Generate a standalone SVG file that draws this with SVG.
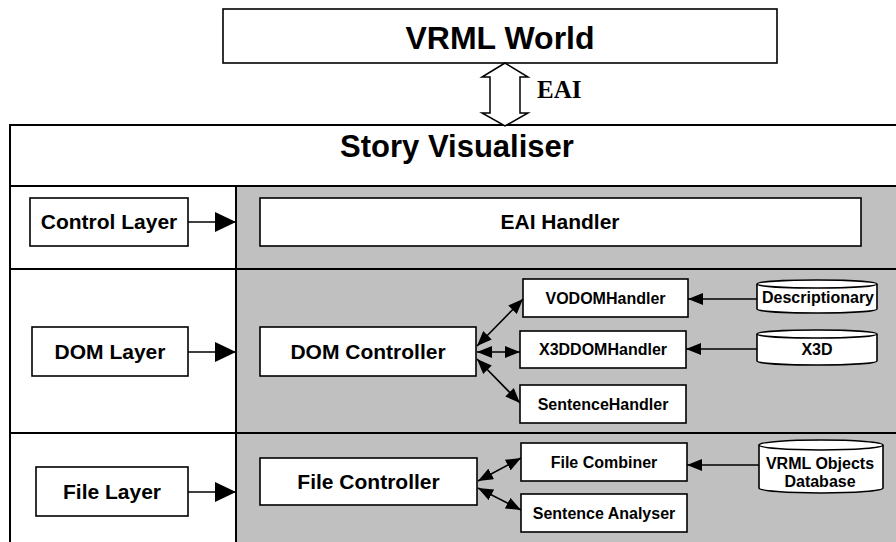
<svg xmlns="http://www.w3.org/2000/svg" width="896" height="542" viewBox="0 0 896 542">
<defs>
<style>
.box{fill:#fff;stroke:#000;stroke-width:1.6}
.ln{fill:none;stroke:#000;stroke-width:2}
.t{font-family:"Liberation Sans",Arial,sans-serif;font-weight:bold;fill:#000;text-anchor:middle}
.t21{font-size:21px}
.t16{font-size:16px}
.c{stroke:#000;stroke-width:1.6;fill:none}
.big{marker-end:url(#big)}
.sm{marker-end:url(#sm)}
.both{marker-start:url(#sm);marker-end:url(#sm)}
</style>
<marker id="big" markerUnits="userSpaceOnUse" markerWidth="21" markerHeight="20" refX="21" refY="10" orient="auto" viewBox="0 0 21 20">
<path d="M0,0 L21,10 L0,20 z" fill="#000"/>
</marker>
<marker id="sm" markerUnits="userSpaceOnUse" markerWidth="15" markerHeight="12" refX="15" refY="6" orient="auto-start-reverse" viewBox="0 0 15 12">
<path d="M0,0 L15,6 L0,12 z" fill="#000"/>
</marker>
</defs>
<rect x="0" y="0" width="896" height="542" fill="#fff"/>

<g id="vrml-world">
<rect class="box" x="223" y="9" width="554" height="54"/>
<text class="t" x="500" y="49" font-size="32">VRML World</text>
</g>

<g id="story-visualiser">
<rect x="236" y="186" width="680" height="370" fill="#c0c0c0"/>
<rect x="10" y="125" width="900" height="430" fill="none" stroke="#000" stroke-width="2"/>
<line class="ln" x1="10" y1="186" x2="910" y2="186"/>
<line class="ln" x1="10" y1="269" x2="910" y2="269"/>
<line class="ln" x1="10" y1="433" x2="910" y2="433"/>
<line class="ln" x1="236" y1="186" x2="236" y2="556"/>
<text class="t" x="457" y="157" font-size="31">Story Visualiser</text>
</g>

<g id="control-layer">
<rect class="box" x="30" y="198" width="158" height="48"/>
<text class="t t21" x="109" y="229">Control Layer</text>
</g>
<g id="eai-handler">
<rect class="box" x="260" y="198" width="601" height="48"/>
<text class="t t21" x="560" y="229">EAI Handler</text>
</g>

<g id="dom-layer">
<rect class="box" x="32" y="327" width="156" height="49"/>
<text class="t t21" x="110" y="359">DOM Layer</text>
</g>
<g id="dom-controller">
<rect class="box" x="260" y="327" width="216" height="49"/>
<text class="t t21" x="368" y="359">DOM Controller</text>
</g>
<g id="vodomhandler">
<rect class="box" x="523" y="279" width="165" height="38"/>
<text class="t t16" x="605.5" y="304">VODOMHandler</text>
</g>
<g id="x3ddomhandler">
<rect class="box" x="520" y="331" width="166" height="37"/>
<text class="t t16" x="603" y="355">X3DDOMHandler</text>
</g>
<g id="sentencehandler">
<rect class="box" x="520" y="385" width="166" height="38"/>
<text class="t t16" x="603" y="410">SentenceHandler</text>
</g>
<g id="descriptionary">
<path class="box" d="M757,284 L757,309 A60,4 0 0 0 877,309 L877,284"/>
<ellipse class="box" cx="817" cy="284" rx="60" ry="4"/>
<text class="t t16" x="818" y="303">Descriptionary</text>
</g>
<g id="x3d">
<path class="box" d="M757,334 L757,361 A60,4 0 0 0 877,361 L877,334"/>
<ellipse class="box" cx="817" cy="334" rx="60" ry="4"/>
<text class="t t16" x="817" y="355">X3D</text>
</g>

<g id="file-layer">
<rect class="box" x="36" y="467" width="152" height="49"/>
<text class="t t21" x="112" y="499">File Layer</text>
</g>
<g id="file-controller">
<rect class="box" x="260" y="458" width="217" height="47"/>
<text class="t t21" x="368.5" y="489">File Controller</text>
</g>
<g id="file-combiner">
<rect class="box" x="521" y="443" width="166" height="38"/>
<text class="t t16" x="604" y="468">File Combiner</text>
</g>
<g id="sentence-analyser">
<rect class="box" x="521" y="494" width="166" height="38"/>
<text class="t t16" x="604" y="519">Sentence Analyser</text>
</g>
<g id="vrml-objects-database">
<path class="box" d="M759,445 L759,488 A62,5 0 0 0 883,488 L883,445"/>
<ellipse class="box" cx="821" cy="445" rx="62" ry="5"/>
<text class="t t16" x="820" y="469">VRML Objects</text>
<text class="t t16" x="820" y="487">Database</text>
</g>

<g id="connectors">
<path d="M505,63 L528,77 L520,77 L520,113 L528,113 L505,126 L482,113 L490,113 L490,77 L482,77 Z" fill="#fff" stroke="#000" stroke-width="1.5"/>
<text x="537" y="98" font-family="'Liberation Serif','Times New Roman',serif" font-weight="bold" font-size="25" fill="#000">EAI</text>
<line class="c big" x1="188" y1="222" x2="236" y2="222"/>
<line class="c big" x1="188" y1="352" x2="236" y2="352"/>
<line class="c big" x1="188" y1="492" x2="236" y2="492"/>
<line class="c sm" x1="757" y1="299" x2="688" y2="299"/>
<line class="c sm" x1="757" y1="349" x2="686" y2="349"/>
<line class="c sm" x1="759" y1="465" x2="687" y2="465"/>
<line class="c both" x1="477" y1="346" x2="523" y2="299"/>
<line class="c both" x1="477" y1="352" x2="520" y2="352"/>
<line class="c both" x1="477" y1="359" x2="520" y2="403"/>
<line class="c both" x1="478" y1="481" x2="521" y2="458"/>
<line class="c both" x1="478" y1="488" x2="521" y2="510"/>
</g>
</svg>
